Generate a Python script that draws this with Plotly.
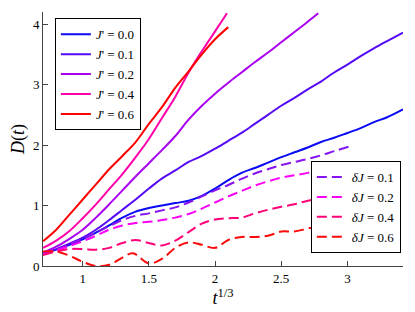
import plotly.graph_objects as go

x_grid = [0.7, 0.8, 0.9, 1.0, 1.1, 1.2, 1.3, 1.4, 1.5, 1.6, 1.7, 1.8, 1.9, 2.0,
          2.1, 2.2, 2.3, 2.4, 2.5, 2.6, 2.7, 2.8, 2.9, 3.0, 3.1, 3.2, 3.3, 3.42]

# Solid curves: J'
jp_labels = ["0.0", "0.1", "0.2", "0.4", "0.6"]
jp_colors = ["rgb(10,10,245)", "rgb(85,10,245)", "rgb(170,0,240)", "rgb(255,0,170)", "rgb(255,0,0)"]

d_jp00 = [0.2, 0.27, 0.35, 0.44, 0.55, 0.67, 0.8, 0.9, 0.96, 1.0, 1.04, 1.08, 1.16, 1.28,
          1.42, 1.54, 1.62, 1.71, 1.8, 1.88, 1.96, 2.05, 2.12, 2.2, 2.28, 2.38, 2.46, 2.59]
d_jp01 = [0.2, 0.28, 0.37, 0.47, 0.6, 0.76, 0.93, 1.1, 1.28, 1.45, 1.58, 1.72, 1.82, 1.94,
          2.07, 2.2, 2.35, 2.5, 2.65, 2.78, 2.92, 3.05, 3.2, 3.33, 3.47, 3.6, 3.72, 3.86]
x_jp02 = [0.7, 0.8, 0.9, 1.0, 1.1, 1.2, 1.3, 1.4, 1.5, 1.6, 1.7, 1.8, 1.9, 2.0,
          2.1, 2.2, 2.3, 2.4, 2.5, 2.6, 2.7, 2.78]
d_jp02 = [0.22, 0.32, 0.45, 0.6, 0.8, 1.02, 1.25, 1.48, 1.7, 1.92, 2.15, 2.42, 2.65, 2.85,
          3.03, 3.2, 3.37, 3.53, 3.7, 3.87, 4.04, 4.18]
x_jp04 = [0.7, 0.8, 0.9, 1.0, 1.1, 1.2, 1.3, 1.4, 1.5, 1.6, 1.7, 1.8, 1.9, 2.0, 2.09]
d_jp04 = [0.30, 0.42, 0.58, 0.79, 1.02, 1.27, 1.52, 1.8, 2.1, 2.45, 2.8, 3.2, 3.55, 3.88, 4.18]
x_jp06 = [0.7, 0.8, 0.9, 1.0, 1.1, 1.2, 1.3, 1.4, 1.5, 1.6, 1.7, 1.8, 1.9, 2.0, 2.1]
d_jp06 = [0.41, 0.6, 0.85, 1.1, 1.35, 1.6, 1.82, 2.05, 2.35, 2.63, 2.95, 3.22, 3.5, 3.75, 3.95]

# Dashed curves: delta J
dj_labels = ["0.1", "0.2", "0.4", "0.6"]
dj_colors = ["rgb(135,20,240)", "rgb(250,0,245)", "rgb(255,0,120)", "rgb(250,10,10)"]

x_dj01 = [0.7, 0.8, 0.9, 1.0, 1.1, 1.2, 1.3, 1.4, 1.5, 1.6, 1.7, 1.8, 1.9, 2.0,
          2.1, 2.2, 2.3, 2.4, 2.5, 2.6, 2.7, 2.8, 2.9, 3.02]
d_dj01 = [0.2, 0.27, 0.36, 0.45, 0.55, 0.66, 0.76, 0.83, 0.87, 0.92, 0.97, 1.05, 1.15, 1.25,
          1.34, 1.44, 1.53, 1.6, 1.67, 1.72, 1.77, 1.83, 1.9, 1.98]
x_dj02 = [0.7, 0.8, 0.9, 1.0, 1.1, 1.2, 1.3, 1.4, 1.5, 1.6, 1.7, 1.8, 1.9, 2.0,
          2.1, 2.2, 2.3, 2.4, 2.5, 2.6, 2.7, 2.8, 2.9]
d_dj02 = [0.19, 0.26, 0.33, 0.41, 0.5, 0.6, 0.67, 0.71, 0.73, 0.76, 0.8, 0.86, 0.95, 1.05,
          1.15, 1.24, 1.33, 1.4, 1.46, 1.5, 1.54, 1.59, 1.64]
x_dj04 = [0.7, 0.8, 0.9, 1.0, 1.1, 1.2, 1.3, 1.4, 1.5, 1.6, 1.7, 1.8, 1.9, 2.0,
          2.1, 2.2, 2.3, 2.4, 2.5, 2.6, 2.7, 2.8, 2.9, 3.0]
d_dj04 = [0.18, 0.24, 0.28, 0.28, 0.27, 0.3, 0.38, 0.43, 0.38, 0.34, 0.42, 0.56, 0.7, 0.77,
          0.79, 0.8, 0.87, 0.93, 0.98, 1.02, 1.08, 1.12, 1.15, 1.18]
x_dj06 = [0.7, 0.8, 0.9, 1.0, 1.1, 1.2, 1.3, 1.38, 1.5, 1.6, 1.7, 1.8, 1.9, 2.0,
          2.1, 2.2, 2.3, 2.4, 2.5, 2.6, 2.7, 2.8, 2.9, 3.0]
d_dj06 = [0.24, 0.24, 0.17, 0.07, 0.0, 0.02, 0.14, 0.21, 0.04, 0.12, 0.3, 0.39, 0.35, 0.3,
          0.43, 0.48, 0.48, 0.5, 0.57, 0.57, 0.62, 0.65, 0.68, 0.7]

x_ticks = [1, 1.5, 2, 2.5, 3]
x_ticklabels = ["1", "1.5", "2", "2.5", "3"]
y_ticks = [0, 1, 2, 3, 4]
y_ticklabels = ["0", "1", "2", "3", "4"]

FONT = "Liberation Serif, DejaVu Serif, serif"

fig = go.Figure()

solid = [(x_grid, d_jp00), (x_grid, d_jp01), (x_jp02, d_jp02), (x_jp04, d_jp04), (x_jp06, d_jp06)]
for (xs, ys), lab, col in zip(solid, jp_labels, jp_colors):
    fig.add_trace(go.Scatter(x=xs, y=ys, mode="lines", line=dict(color=col, width=2, shape="spline"),
                             name="<i>J</i>' = " + lab, legend="legend"))

dashed = [(x_dj01, d_dj01), (x_dj02, d_dj02), (x_dj04, d_dj04), (x_dj06, d_dj06)]
for (xs, ys), lab, col in zip(dashed, dj_labels, dj_colors):
    fig.add_trace(go.Scatter(x=xs, y=ys, mode="lines",
                             line=dict(color=col, width=2, dash="10px,5px", shape="spline"),
                             name="<i>δJ</i> = " + lab, legend="legend2"))

legend_common = dict(bgcolor="white", bordercolor="black", borderwidth=1,
                     font=dict(family=FONT, size=13, color="black"), itemwidth=30,
                     tracegroupgap=0)

fig.update_layout(
    width=415, height=312,
    margin=dict(l=35, r=20, t=4, b=54),
    paper_bgcolor="white", plot_bgcolor="white",
    font=dict(family=FONT, size=13, color="black"),
    showlegend=True,
    legend=dict(x=0.033, y=0.975, xanchor="left", yanchor="top", **legend_common),
    legend2=dict(x=0.744, y=0.051, xanchor="left", yanchor="bottom", **legend_common),
    xaxis=dict(range=[0.7, 3.42], tickvals=x_ticks, ticktext=x_ticklabels,
               showgrid=False, zeroline=False, showline=True, linecolor="#444", linewidth=1,
               ticks="inside", ticklen=5, tickcolor="#444", mirror=False,
               tickfont=dict(family=FONT, size=13, color="black"),
               title=dict(text="<i>t</i><sup>1/3</sup>", font=dict(family=FONT, size=18), standoff=0)),
    yaxis=dict(range=[0, 4.2], tickvals=y_ticks, ticktext=y_ticklabels,
               showgrid=False, zeroline=False, showline=True, linecolor="#444", linewidth=1,
               ticks="inside", ticklen=5, tickcolor="#444", mirror=False,
               tickfont=dict(family=FONT, size=13, color="black"),
               title=dict(text="<i>D</i>(<i>t</i>)", font=dict(family=FONT, size=18), standoff=4)),
)

fig.write_html("out.html")
